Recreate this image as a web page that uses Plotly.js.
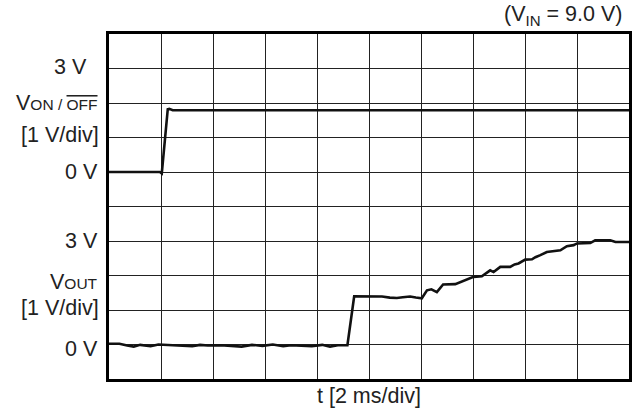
<!DOCTYPE html>
<html>
<head>
<meta charset="utf-8">
<script src="https://cdn.plot.ly/plotly-3.0.1.min.js"></script>
<style>html,body{margin:0;padding:0;background:#fff;}#chart{width:636px;height:416px;}</style>
</head>
<body>
<div id="chart"></div>
<script>
// time in ms (2 ms/div), voltages in V (1 V/div)
var tOnOff = [0, 1.0, 1.95, 2.03, 2.1, 2.18, 2.22, 2.26, 2.32, 2.45, 10, 20];
var vOnOff = [0, 0, 0, -0.04, 0.6, 1.3, 1.6, 1.82, 1.83, 1.79, 1.79, 1.79];

var tOut = [0, 0.4, 0.7, 0.95, 1.2, 1.6, 1.9, 2.3, 2.8, 3.2, 3.5, 3.8, 4.3, 4.8, 5.1, 5.5, 5.9, 6.3, 6.7, 7.0, 7.4, 7.8, 8.2, 8.5, 8.8, 9.1, 9.17,
            9.43, 10.0, 10.5, 10.8, 11.07, 11.3, 11.58, 11.8, 12.03, 12.23, 12.4, 12.61, 12.85, 13.32, 13.57, 13.8, 14.02, 14.34, 14.66, 14.79,
            15.05, 15.43, 15.6, 15.75, 16.01, 16.27, 16.4, 16.59, 16.84, 17.36, 17.61, 17.87, 18.0, 18.51, 18.7, 19.28, 19.48, 20.0];
var vOut = [0.02, 0.02, -0.03, -0.06, -0.01, -0.05, 0.0, -0.02, -0.03, -0.05, -0.01, -0.03, -0.02, -0.04, -0.06, -0.01, -0.04, 0.0, -0.05, -0.02, -0.03, -0.05, -0.01, -0.06, -0.02, -0.02, -0.02,
            1.40, 1.40, 1.39, 1.36, 1.35, 1.37, 1.39, 1.36, 1.34, 1.57, 1.60, 1.52, 1.74, 1.75, 1.83, 1.88, 1.96, 1.98, 2.15, 2.10,
            2.25, 2.25, 2.32, 2.35, 2.46, 2.47, 2.53, 2.59, 2.68, 2.73, 2.85, 2.88, 2.93, 2.94, 3.02, 3.02, 2.97, 2.97];

var FONT = 'Liberation Sans, Arial, sans-serif';
var TXT = '#222';
var FS = 21.5;

var traces = [
  {x: tOnOff, y: vOnOff, yaxis: 'y2', type: 'scatter', mode: 'lines',
   line: {color: '#111', width: 2.6}, hoverinfo: 'skip'},
  {x: tOut, y: vOut, yaxis: 'y', type: 'scatter', mode: 'lines',
   line: {color: '#111', width: 2.6}, hoverinfo: 'skip'}
];

function lab(text, y, yref, right) {
  return {text: text, x: right, xref: 'paper', xanchor: 'right', y: y, yref: yref,
          yanchor: 'middle', showarrow: false, font: {family: FONT, size: FS, color: TXT}};
}
var px = function (p) { return (p - 109) / 520; }; // helper for label x in paper coords

var layout = {
  width: 636, height: 416,
  margin: {l: 109, r: 7, t: 34, b: 37},
  paper_bgcolor: '#fff', plot_bgcolor: '#fff',
  showlegend: false,
  font: {family: FONT, size: FS, color: TXT},
  xaxis: {range: [0, 20], dtick: 2, tick0: 0, showgrid: true, gridcolor: '#222', gridwidth: 1,
          showticklabels: false, ticks: '', zeroline: false,
          showline: true, mirror: true, linecolor: '#000', linewidth: 2.6,
          title: {text: 't [2 ms/div]', font: {family: FONT, size: FS, color: TXT}, standoff: 8}},
  yaxis: {range: [-1, 9], dtick: 1, tick0: 0, showgrid: true, gridcolor: '#222', gridwidth: 1,
          showticklabels: false, ticks: '', zeroline: false,
          showline: true, mirror: true, linecolor: '#000', linewidth: 2.6},
  yaxis2: {range: [-6, 4], overlaying: 'y', visible: false, showgrid: false, zeroline: false},
  annotations: [
    lab('3 V', 3.05, 'y2', px(89)),
    lab('V<span style="font-size:15.5px">ON / <span style="text-decoration:overline">OFF</span></span>', 2.0, 'y2', px(100)),
    lab('[1 V/div]', 1.06, 'y2', px(101)),
    lab('0 V', 0.0, 'y2', px(100)),
    lab('3 V', 3.0, 'y', px(100)),
    lab('V<span style="font-size:15.5px">OUT</span>', 1.8, 'y', px(100)),
    lab('[1 V/div]', 1.06, 'y', px(101)),
    lab('0 V', -0.12, 'y', px(100)),
    {text: '(V<sub>IN</sub> = 9.0 V)', x: px(624), xref: 'paper', xanchor: 'right',
     y: 1, yref: 'paper', yanchor: 'bottom', yshift: 3, showarrow: false,
     font: {family: FONT, size: FS, color: TXT}}
  ]
};

Plotly.newPlot('chart', traces, layout, {displayModeBar: false, staticPlot: true});
</script>
</body>
</html>
